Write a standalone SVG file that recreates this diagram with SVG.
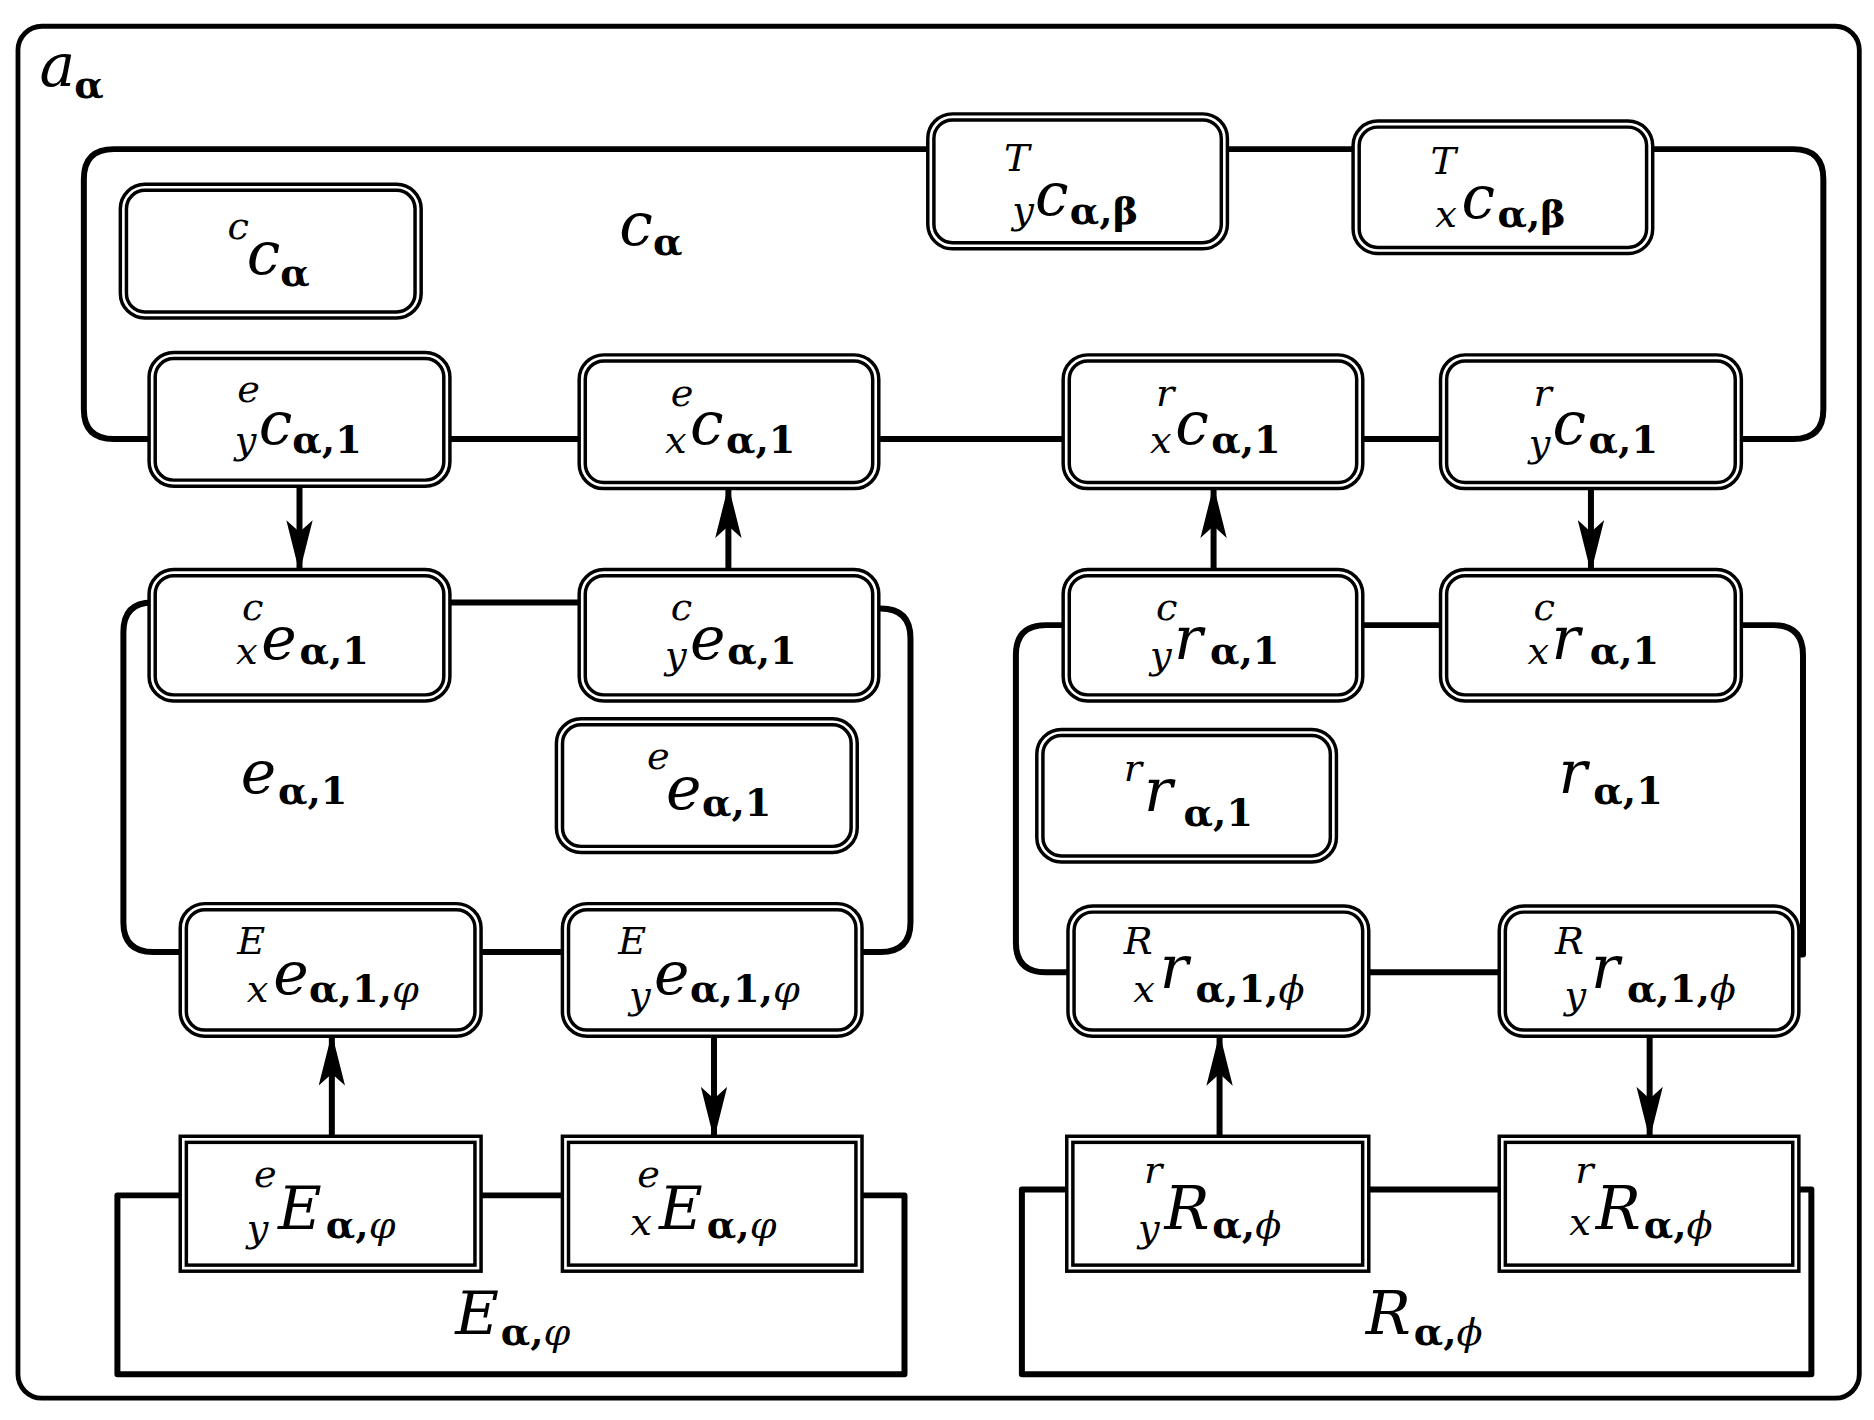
<svg xmlns="http://www.w3.org/2000/svg" width="1874" height="1420" viewBox="0 0 1874 1420">
<style>
.bx{fill:none;stroke:#000;stroke-width:8}
.bi{fill:none;stroke:#fff;stroke-width:2.2}
.ln{fill:none;stroke:#000;stroke-width:5;stroke-linejoin:round}
.m{font-family:"DejaVu Serif","Liberation Serif",serif;font-style:italic;font-size:50px}
.p{font-family:"DejaVu Serif","Liberation Serif",serif;font-style:italic;font-size:32px}
.s{font-family:"DejaVu Serif","Liberation Serif",serif;font-size:32px;font-weight:600}
</style>
<defs>
<marker id="ar" viewBox="0 0 44 22" refX="44" refY="11" markerWidth="44" markerHeight="22" markerUnits="userSpaceOnUse" orient="auto">
<path d="M0,0 L44,11 L0,22 L10,11 Z" fill="#000"/>
</marker>
</defs>
<rect width="1874" height="1420" fill="#fff"/>
<g transform="scale(1.198,1.193)">
<rect x="15" y="22" width="1537" height="1150" rx="20" fill="none" stroke="#000" stroke-width="4"/>
<text class="m" x="33" y="72">a</text><text class="s" x="62" y="82">α</text>
<g id="connectors">
<path class="ln" d="M127,368 H95 Q70,368 70,343 V150 Q70,125 95,125 H777 M1022,125 H1132 M1377,125 H1497 Q1522,125 1522,150 V343 Q1522,368 1497,368 H1451 M373,368 H486 M731,368 H890 M1135,368 H1205"/>
<path class="ln" d="M373,505 H486 M127,505 Q103,505 103,530 V773 Q103,798 128,798 H153 M399,798 H472 M731,510 H735 Q760,510 760,535 V773 Q760,798 735,798 H717"/>
<path class="ln" d="M1135,524 H1205 M890,524 H873 Q848,524 848,549 V790 Q848,815 873,815 H894 M1451,524 H1480 Q1505,524 1505,549 V800 H1499 M1140,815 H1254"/>
<path class="ln" d="M153,1002 H98 V1152 H755 V1002 H717 M399,1002 H472"/>
<path class="ln" d="M893,997 H853 V1152 H1512 V997 H1499 M1140,997 H1254"/>
<g class="ln" stroke-width="6" marker-end="url(#ar)">
<line x1="250" y1="405" x2="250" y2="480"/>
<line x1="608" y1="480" x2="608" y2="407"/>
<line x1="1013" y1="480" x2="1013" y2="407"/>
<line x1="1328" y1="407" x2="1328" y2="480"/>
<line x1="277" y1="955" x2="277" y2="866"/>
<line x1="596" y1="866" x2="596" y2="955"/>
<line x1="1018" y1="955" x2="1018" y2="866"/>
<line x1="1377" y1="866" x2="1377" y2="955"/>
</g>
</g>
<g id="Tyc"><rect class="bx" x="777" y="98" width="245" height="108" rx="18"/><rect class="bi" x="777" y="98" width="245" height="108" rx="18"/><text class="p" x="838" y="143">T</text><text class="p" x="845" y="187">y</text><text class="m" x="864" y="180">c</text><text class="s" x="893" y="188">α,β</text></g>
<g id="Txc"><rect class="bx" x="1132" y="104" width="245" height="106" rx="18"/><rect class="bi" x="1132" y="104" width="245" height="106" rx="18"/><text class="p" x="1194" y="146">T</text><text class="p" x="1198" y="190">x</text><text class="m" x="1220" y="183">c</text><text class="s" x="1250" y="190">α,β</text></g>
<g id="cc"><rect class="bx" x="103" y="157" width="246" height="107" rx="18"/><rect class="bi" x="103" y="157" width="246" height="107" rx="18"/><text class="p" x="190" y="200">c</text><text class="m" x="206" y="230">c</text><text class="s" x="234" y="240">α</text></g>
<g id="ca"><text class="m" x="517" y="205">c</text><text class="s" x="545" y="214">α</text></g>
<g id="eyc"><rect class="bx" x="127" y="298" width="246" height="107" rx="18"/><rect class="bi" x="127" y="298" width="246" height="107" rx="18"/><text class="p" x="198" y="337">e</text><text class="p" x="196" y="380">y</text><text class="m" x="216" y="372">c</text><text class="s" x="244" y="380">α,1</text></g>
<g id="exc"><rect class="bx" x="486" y="300" width="245" height="107" rx="18"/><rect class="bi" x="486" y="300" width="245" height="107" rx="18"/><text class="p" x="560" y="340">e</text><text class="p" x="555" y="380">x</text><text class="m" x="576" y="372">c</text><text class="s" x="606" y="380">α,1</text></g>
<g id="rxc"><rect class="bx" x="890" y="300" width="245" height="107" rx="18"/><rect class="bi" x="890" y="300" width="245" height="107" rx="18"/><text class="p" x="965" y="340">r</text><text class="p" x="960" y="380">x</text><text class="m" x="981" y="372">c</text><text class="s" x="1011" y="380">α,1</text></g>
<g id="ryc"><rect class="bx" x="1205" y="300" width="246" height="107" rx="18"/><rect class="bi" x="1205" y="300" width="246" height="107" rx="18"/><text class="p" x="1280" y="340">r</text><text class="p" x="1276" y="382">y</text><text class="m" x="1296" y="372">c</text><text class="s" x="1326" y="380">α,1</text></g>
<g id="cxe"><rect class="bx" x="127" y="480" width="246" height="105" rx="18"/><rect class="bi" x="127" y="480" width="246" height="105" rx="18"/><text class="p" x="202" y="520">c</text><text class="p" x="197" y="557">x</text><text class="m" x="218" y="552">e</text><text class="s" x="250" y="557">α,1</text></g>
<g id="cye"><rect class="bx" x="486" y="480" width="245" height="105" rx="18"/><rect class="bi" x="486" y="480" width="245" height="105" rx="18"/><text class="p" x="560" y="520">c</text><text class="p" x="555" y="560">y</text><text class="m" x="576" y="552">e</text><text class="s" x="607" y="557">α,1</text></g>
<g id="cyr"><rect class="bx" x="890" y="480" width="245" height="105" rx="18"/><rect class="bi" x="890" y="480" width="245" height="105" rx="18"/><text class="p" x="965" y="520">c</text><text class="p" x="960" y="560">y</text><text class="m" x="980" y="552">r</text><text class="s" x="1010" y="557">α,1</text></g>
<g id="cxr"><rect class="bx" x="1205" y="480" width="246" height="105" rx="18"/><rect class="bi" x="1205" y="480" width="246" height="105" rx="18"/><text class="p" x="1280" y="520">c</text><text class="p" x="1275" y="557">x</text><text class="m" x="1295" y="552">r</text><text class="s" x="1327" y="557">α,1</text></g>
<g id="ea1"><text class="m" x="201" y="665">e</text><text class="s" x="232" y="674">α,1</text></g>
<g id="ee"><rect class="bx" x="467" y="605" width="246" height="107" rx="18"/><rect class="bi" x="467" y="605" width="246" height="107" rx="18"/><text class="p" x="540" y="645">e</text><text class="m" x="556" y="678">e</text><text class="s" x="586" y="684">α,1</text></g>
<g id="rr"><rect class="bx" x="868" y="614" width="245" height="106" rx="18"/><rect class="bi" x="868" y="614" width="245" height="106" rx="18"/><text class="p" x="938" y="655">r</text><text class="m" x="955" y="680">r</text><text class="s" x="988" y="692">α,1</text></g>
<g id="ra1"><text class="m" x="1301" y="665">r</text><text class="s" x="1330" y="674">α,1</text></g>
<g id="Exe"><rect class="bx" x="153" y="760" width="246" height="106" rx="18"/><rect class="bi" x="153" y="760" width="246" height="106" rx="18"/><text class="p" x="198" y="800">E</text><text class="p" x="206" y="840">x</text><text class="m" x="228" y="833">e</text><text class="s" x="258" y="840">α,1,<tspan font-style="italic" font-weight="normal">φ</tspan></text></g>
<g id="Eye"><rect class="bx" x="472" y="760" width="245" height="106" rx="18"/><rect class="bi" x="472" y="760" width="245" height="106" rx="18"/><text class="p" x="516" y="800">E</text><text class="p" x="525" y="845">y</text><text class="m" x="546" y="833">e</text><text class="s" x="576" y="840">α,1,<tspan font-style="italic" font-weight="normal">φ</tspan></text></g>
<g id="Rxr"><rect class="bx" x="894" y="762" width="246" height="104" rx="18"/><rect class="bi" x="894" y="762" width="246" height="104" rx="18"/><text class="p" x="938" y="800">R</text><text class="p" x="946" y="840">x</text><text class="m" x="968" y="828">r</text><text class="s" x="998" y="840">α,1,<tspan font-style="italic" font-weight="normal">ϕ</tspan></text></g>
<g id="Ryr"><rect class="bx" x="1254" y="762" width="245" height="104" rx="18"/><rect class="bi" x="1254" y="762" width="245" height="104" rx="18"/><text class="p" x="1298" y="800">R</text><text class="p" x="1306" y="845">y</text><text class="m" x="1328" y="828">r</text><text class="s" x="1358" y="840">α,1,<tspan font-style="italic" font-weight="normal">ϕ</tspan></text></g>
<g id="eyE"><rect class="bx" x="153" y="955" width="246" height="108"/><rect class="bi" x="153" y="955" width="246" height="108"/><text class="p" x="212" y="995">e</text><text class="p" x="206" y="1040">y</text><text class="m" x="232" y="1030">E</text><text class="s" x="272" y="1038">α,<tspan font-style="italic" font-weight="normal">φ</tspan></text></g>
<g id="exE"><rect class="bx" x="472" y="955" width="245" height="108"/><rect class="bi" x="472" y="955" width="245" height="108"/><text class="p" x="532" y="995">e</text><text class="p" x="526" y="1035">x</text><text class="m" x="550" y="1030">E</text><text class="s" x="590" y="1038">α,<tspan font-style="italic" font-weight="normal">φ</tspan></text></g>
<g id="ryR"><rect class="bx" x="893" y="955" width="247" height="108"/><rect class="bi" x="893" y="955" width="247" height="108"/><text class="p" x="955" y="992">r</text><text class="p" x="950" y="1040">y</text><text class="m" x="972" y="1030">R</text><text class="s" x="1012" y="1038">α,<tspan font-style="italic" font-weight="normal">ϕ</tspan></text></g>
<g id="rxR"><rect class="bx" x="1254" y="955" width="245" height="108"/><rect class="bi" x="1254" y="955" width="245" height="108"/><text class="p" x="1315" y="992">r</text><text class="p" x="1310" y="1035">x</text><text class="m" x="1332" y="1030">R</text><text class="s" x="1372" y="1038">α,<tspan font-style="italic" font-weight="normal">ϕ</tspan></text></g>
<g id="Ea"><text class="m" x="380" y="1118">E</text><text class="s" x="418" y="1127">α,<tspan font-style="italic" font-weight="normal">φ</tspan></text></g>
<g id="Ra"><text class="m" x="1140" y="1118">R</text><text class="s" x="1180" y="1127">α,<tspan font-style="italic" font-weight="normal">ϕ</tspan></text></g>
</g>
</svg>
